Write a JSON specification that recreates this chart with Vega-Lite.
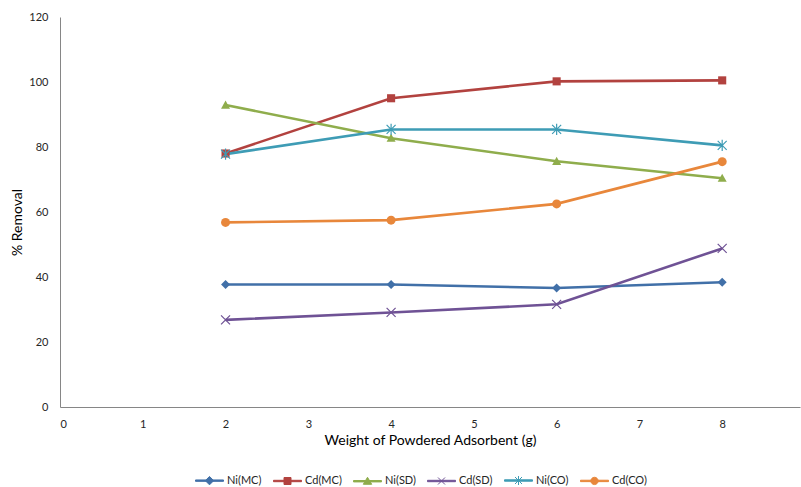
{
  "$schema": "https://vega.github.io/schema/vega-lite/v6.json",
  "width": 740,
  "height": 390,
  "autosize": {"type": "none"},
  "padding": {"left": 60, "top": 17, "right": 1, "bottom": 80},
  "background": "white",
  "config": {
    "font": "Lato",
    "view": {"stroke": null},
    "axis": {
      "grid": false,
      "ticks": false,
      "domainColor": "#868686",
      "domainWidth": 1,
      "labelColor": "#262626",
      "labelFont": "Lato",
      "labelFontSize": 11,
      "titleFont": "Lato",
      "titleFontSize": 14,
      "titleFontWeight": "normal",
      "titleColor": "#000000"
    }
  },
  "data": {
    "values": [
      {"weight": 2, "removal": 37.7, "series": "Ni(MC)"},
      {"weight": 4, "removal": 37.7, "series": "Ni(MC)"},
      {"weight": 6, "removal": 36.6, "series": "Ni(MC)"},
      {"weight": 8, "removal": 38.4, "series": "Ni(MC)"},
      {"weight": 2, "removal": 78.0, "series": "Cd(MC)"},
      {"weight": 4, "removal": 95.0, "series": "Cd(MC)"},
      {"weight": 6, "removal": 100.2, "series": "Cd(MC)"},
      {"weight": 8, "removal": 100.5, "series": "Cd(MC)"},
      {"weight": 2, "removal": 92.9, "series": "Ni(SD)"},
      {"weight": 4, "removal": 82.7, "series": "Ni(SD)"},
      {"weight": 6, "removal": 75.6, "series": "Ni(SD)"},
      {"weight": 8, "removal": 70.4, "series": "Ni(SD)"},
      {"weight": 2, "removal": 26.8, "series": "Cd(SD)"},
      {"weight": 4, "removal": 29.1, "series": "Cd(SD)"},
      {"weight": 6, "removal": 31.6, "series": "Cd(SD)"},
      {"weight": 8, "removal": 48.8, "series": "Cd(SD)"},
      {"weight": 2, "removal": 77.8, "series": "Ni(CO)"},
      {"weight": 4, "removal": 85.4, "series": "Ni(CO)"},
      {"weight": 6, "removal": 85.4, "series": "Ni(CO)"},
      {"weight": 8, "removal": 80.5, "series": "Ni(CO)"},
      {"weight": 2, "removal": 56.8, "series": "Cd(CO)"},
      {"weight": 4, "removal": 57.5, "series": "Cd(CO)"},
      {"weight": 6, "removal": 62.5, "series": "Cd(CO)"},
      {"weight": 8, "removal": 75.5, "series": "Cd(CO)"}
    ]
  },
  "encoding": {
    "x": {
      "field": "weight",
      "type": "quantitative",
      "scale": {"domain": [0, 8.94], "nice": false, "zero": false},
      "axis": {
        "values": [0, 1, 2, 3, 4, 5, 6, 7, 8],
        "labelPadding": 11,
        "title": "Weight of Powdered Adsorbent (g)",
        "titleX": 370,
        "titleY": 33,
        "titleBaseline": "middle",
        "titleAlign": "center"
      }
    },
    "y": {
      "field": "removal",
      "type": "quantitative",
      "scale": {"domain": [0, 120], "nice": false},
      "axis": {
        "values": [0, 20, 40, 60, 80, 100, 120],
        "labelPadding": 12,
        "title": "% Removal",
        "titleX": -43,
        "titleY": 205,
        "titleBaseline": "middle",
        "titleAlign": "center",
        "titleAngle": -90
      }
    },
    "color": {
      "field": "series",
      "type": "nominal",
      "sort": ["Ni(MC)", "Cd(MC)", "Ni(SD)", "Cd(SD)", "Ni(CO)", "Cd(CO)"],
      "scale": {
        "domain": ["Ni(MC)", "Cd(MC)", "Ni(SD)", "Cd(SD)", "Ni(CO)", "Cd(CO)"],
        "range": ["#4170A8", "#B2423F", "#8FAD4C", "#6F5295", "#3E9CB5", "#E8873B"]
      },
      "legend": {
        "title": null,
        "orient": "none",
        "direction": "horizontal",
        "legendX": 135,
        "legendY": 449,
        "symbolSize": 784,
        "symbolStrokeWidth": 1,
        "labelFont": "Lato",
        "labelFontSize": 11,
        "labelColor": "#262626",
        "labelOffset": 3,
        "columnPadding": 9,
        "encode": {
          "symbols": {
            "update": {
              "shape": {
                "signal": "{'Ni(MC)': 'M-1,-0.05H1V0.05H-1Z M0,-0.3L0.3,0L0,0.3L-0.3,0Z', 'Cd(MC)': 'M-1,-0.05H1V0.05H-1Z M-0.25,-0.25H0.25V0.25H-0.25Z', 'Ni(SD)': 'M-1,-0.05H1V0.05H-1Z M0,-0.28L0.3,0.22H-0.3Z', 'Cd(SD)': 'M-1,-0.05H1V0.05H-1Z M-0.25,-0.25L0.25,0.25M0.25,-0.25L-0.25,0.25', 'Ni(CO)': 'M-1,-0.05H1V0.05H-1Z M-0.25,-0.25L0.25,0.25M0.25,-0.25L-0.25,0.25M0,-0.32V0.32', 'Cd(CO)': 'M-1,-0.05H1V0.05H-1Z M0.26,0A0.26,0.26 0 1 1 -0.26,0A0.26,0.26 0 1 1 0.26,0Z'}[datum.value]"
              },
              "fill": {"scale": "color", "field": "value"},
              "stroke": {"scale": "color", "field": "value"},
              "strokeWidth": {"value": 1},
              "opacity": {"value": 1}
            }
          }
        }
      }
    }
  },
  "layer": [
    {
      "mark": {"type": "line", "strokeWidth": 2.6},
      "encoding": {}
    },
    {
      "transform": [{"filter": "datum.series == 'Ni(MC)'"}],
      "mark": {"type": "point", "filled": true, "opacity": 1, "size": 81, "shape": "M0,-1L1,0L0,1L-1,0Z"}
    },
    {
      "transform": [{"filter": "datum.series == 'Cd(MC)'"}],
      "mark": {"type": "point", "filled": true, "opacity": 1, "size": 81, "shape": "M-0.9,-0.9H0.9V0.9H-0.9Z"}
    },
    {
      "transform": [{"filter": "datum.series == 'Ni(SD)'"}],
      "mark": {"type": "point", "filled": true, "opacity": 1, "size": 81, "shape": "M0,-1L1,0.8H-1Z"}
    },
    {
      "transform": [{"filter": "datum.series == 'Cd(SD)'"}],
      "mark": {"type": "point", "filled": false, "opacity": 1, "size": 81, "strokeWidth": 1.2, "shape": "M-1,-1L1,1M1,-1L-1,1"}
    },
    {
      "transform": [{"filter": "datum.series == 'Ni(CO)'"}],
      "mark": {"type": "point", "filled": false, "opacity": 1, "size": 81, "strokeWidth": 1.2, "shape": "M-1,-1L1,1M1,-1L-1,1M0,-1.25V1.25"}
    },
    {
      "transform": [{"filter": "datum.series == 'Cd(CO)'"}],
      "mark": {"type": "point", "filled": true, "opacity": 1, "size": 81, "shape": "circle"}
    }
  ]
}
